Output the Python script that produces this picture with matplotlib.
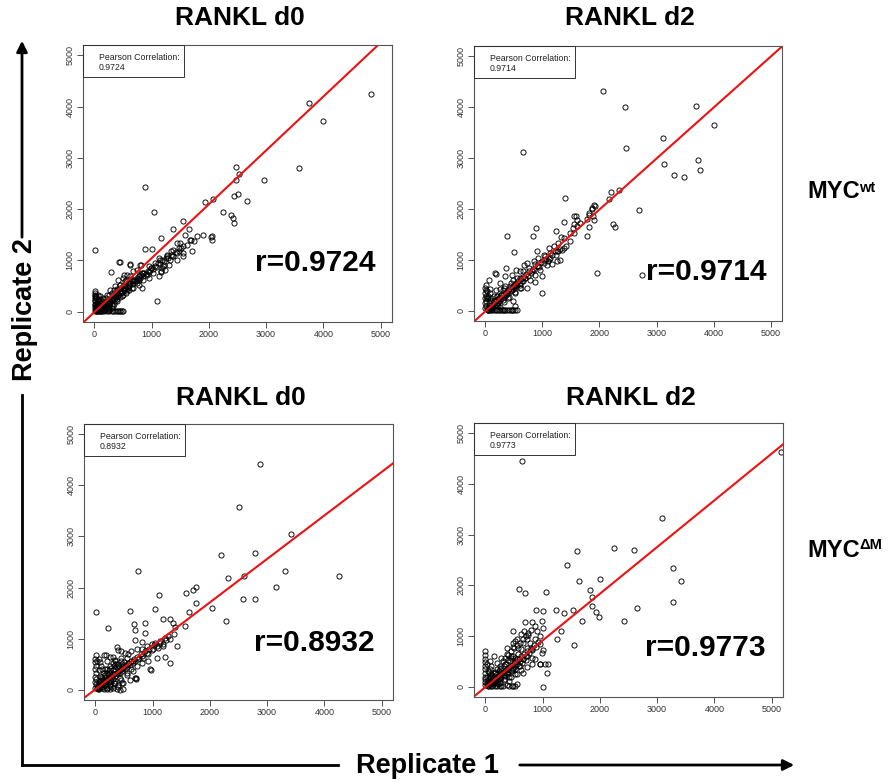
import numpy as np
import matplotlib
matplotlib.use("Agg")
import matplotlib.pyplot as plt
from matplotlib.lines import Line2D
from matplotlib.patches import FancyArrowPatch, Rectangle

W, H = 895, 782

conditions = ["RANKL d0", "RANKL d2"]
genotypes = ["wt", "\u0394M"]
pearson = [[0.9724, 0.9714], [0.8932, 0.9773]]
# regression lines: (intercept, slope)
fits = [[(-5, 1.05), (-10, 1.0)], [(10, 0.85), (-5, 0.92)]]
ticks = [0, 1000, 2000, 3000, 4000, 5000]

wt_d0 = [
    (4825, 4250), (3750, 4070), (4000, 3720), (3570, 2805), (2475, 2825), (2530, 2690),
    (2470, 2570), (2965, 2570), (2515, 2300), (2435, 2265), (2670, 2155), (2070, 2200),
    (1940, 2135), (2255, 1940), (2385, 1895), (2420, 1830), (2440, 1730), (885, 2435),
    (1045, 1940), (10, 1200), (1100, 205), (1550, 1760), (1370, 1620), (1650, 1620),
    (1905, 1505), (1790, 1485), (2035, 1460), (2055, 1400), (1170, 1445), (885, 1225),
    (1005, 1215), (290, 775), (435, 965), (440, 960),
    (1590, 1505), (1680, 1405), (1735, 1375), (1445, 1340), (1505, 1245), (1330, 1180),
    (1270, 1115), (1125, 1050), (1210, 920), (980, 855), (805, 920), (1155, 790),
    (920, 725), (775, 625), (630, 920), (515, 725), (690, 590), (455, 460), (340, 330),
    (365, 200), (455, 20),
    (625, 930), (800, 920), (680, 790), (825, 755), (975, 820), (1160, 775), (1205, 885),
    (1325, 1015), (1440, 1145), (1555, 1275), (1670, 1405), (2050, 1470), (1500, 1340),
    (1555, 1145), (1380, 1210), (1265, 1080), (1150, 1015), (1060, 950), (945, 885),
    (855, 755), (770, 690), (680, 625), (595, 560), (505, 495), (450, 395), (360, 330),
    (305, 235), (215, 170), (155, 105), (100, 50), (740, 820), (625, 690), (535, 590),
    (450, 525), (390, 430), (855, 625), (770, 525), (680, 460), (565, 395), (480, 300),
    (390, 200), (330, 105), (245, 70), (825, 460), (1030, 755), (1120, 690), (1235, 820),
    (1350, 1080), (1470, 1245), (1615, 1310), (1700, 1180), (1555, 1080), (1440, 1015),
    (1295, 920), (1175, 855), (945, 660), (565, 725), (505, 660), (420, 625), (360, 495),
    (275, 430), (215, 330), (155, 265), (130, 170),
    (40, 15), (130, 15), (215, 15), (300, 15), (360, 15), (420, 15), (480, 15), (505, 15),
    (10, 365), (10, 300), (10, 230), (10, 160), (10, 100), (10, 50),
    (40, 90), (70, 150), (100, 120), (60, 200), (30, 260), (80, 60), (120, 80), (160, 40),
    (200, 60), (250, 120), (180, 140), (140, 200), (260, 40), (300, 80), (50, 30),
    (20, 20), (110, 10),
    # dense core
    (20, 40), (40, 20), (50, 60), (70, 40), (80, 90), (90, 60), (110, 70), (120, 110),
    (130, 90), (150, 120), (160, 150), (170, 110), (190, 150), (200, 180), (210, 140),
    (230, 200), (240, 170), (260, 210), (270, 240), (280, 190), (300, 250), (310, 220),
    (330, 280), (340, 250), (350, 300), (370, 280), (380, 330), (400, 310), (410, 360),
    (420, 330), (440, 380), (460, 360), (470, 410), (490, 390), (500, 440), (520, 420),
    (530, 470), (550, 440), (560, 500), (580, 470), (600, 530), (610, 500), (630, 560),
    (650, 540), (660, 600), (680, 570), (700, 620), (720, 600), (740, 660), (760, 630),
    (780, 690), (800, 660), (820, 720), (850, 700), (870, 760), (900, 740), (930, 800),
    (960, 780), (990, 850), (1020, 830), (1050, 900), (1080, 880), (1110, 950),
    (1140, 930), (1180, 1000), (1220, 980), (1250, 1050), (1290, 1040), (1330, 1100),
    (1380, 1090), (1420, 1160), (1480, 1180),
    (100, 20), (200, 90), (300, 160), (400, 240), (500, 330), (600, 420), (250, 60),
    (350, 150), (450, 280), (550, 360), (650, 470), (750, 560), (100, 180), (200, 260),
    (300, 360), (400, 450), (150, 250), (250, 330), (350, 420), (450, 520), (550, 620),
    (60, 120), (30, 160), (60, 15), (90, 15), (170, 15), (250, 15), (330, 15), (390, 15),
    (450, 15), (5, 20), (5, 130), (5, 200), (5, 270), (5, 330), (5, 400),
    (20, 100), (50, 150), (80, 200), (30, 300), (60, 250), (100, 300), (120, 200),
    (140, 50), (180, 30), (220, 100), (260, 150), (60, 330),
]

wt_d2 = [
    (2065, 4325), (2440, 4005), (3690, 4025), (4010, 3655), (3110, 3390), (2470, 3200),
    (660, 3115), (3130, 2890), (3735, 2955), (3765, 2760), (3310, 2665), (3485, 2630),
    (2340, 2370), (2205, 2335), (2170, 2195), (2690, 1975), (1930, 2065), (1390, 2215),
    (2235, 1710), (2270, 1645), (1960, 740), (2750, 695), (380, 1460), (495, 1155),
    (180, 730), (995, 345), (890, 1625), (840, 1460), (1230, 1560), (1325, 1450),
    (1590, 1855), (1610, 1790), (1530, 1625), (1780, 1460), (1815, 1645), (1885, 1855),
    (1910, 1790), (1870, 2020), (1820, 1885), (1550, 1525), (1490, 1365), (1405, 1265),
    (1255, 1165), (1140, 1035), (1080, 905), (1255, 970), (1375, 1230), (1110, 1230),
    (1025, 1100), (905, 1165), (850, 970), (760, 840), (675, 905), (615, 775), (555, 640),
    (470, 710), (440, 545), (320, 445), (265, 315), (145, 185), (495, 480), (730, 445),
    (875, 575), (995, 675), (615, 510),
    (165, 745), (360, 840), (1370, 1735), (1555, 1870), (725, 940), (665, 775), (780, 610),
    (605, 645), (490, 610), (430, 480), (255, 545), (340, 680), (545, 810), (810, 775),
    (930, 875), (1020, 1005), (1135, 1140), (1195, 1270), (1280, 1335), (1370, 1435),
    (1490, 1535), (1605, 1665), (1665, 1730), (1780, 1795), (1810, 1930), (1870, 1995),
    (1910, 2070), (1545, 1695), (1310, 1205), (1105, 975), (960, 810), (870, 710),
    (665, 580), (605, 445), (520, 350), (400, 250), (310, 215), (225, 150), (135, 100),
    (75, 55), (45, 20), (370, 350), (280, 315), (195, 285), (460, 415), (545, 515),
    (695, 645), (870, 910), (1045, 1070), (1225, 1170), (1165, 910), (1310, 1005),
    (930, 1040),
    (45, 10), (100, 10), (150, 10), (200, 10), (260, 10), (320, 10), (380, 10), (450, 10),
    (520, 10), (15, 500), (15, 400), (15, 300), (15, 200), (15, 100),
    (310, 20), (460, 20), (520, 85), (490, 185), (60, 150), (100, 250), (150, 200),
    (200, 120), (250, 80), (120, 60), (80, 350), (40, 300), (180, 400), (220, 230),
    # dense core
    (20, 40), (40, 20), (60, 80), (80, 50), (100, 110), (120, 80), (140, 150), (160, 120),
    (180, 190), (200, 150), (220, 230), (240, 190), (260, 270), (280, 230), (300, 310),
    (320, 270), (340, 350), (360, 310), (380, 390), (400, 350), (420, 430), (440, 390),
    (460, 470), (480, 430), (500, 510), (520, 470), (540, 550), (560, 510), (580, 590),
    (600, 550), (620, 630), (640, 590), (660, 670), (690, 640), (710, 720), (740, 690),
    (760, 780), (800, 740), (830, 830), (860, 800), (900, 880), (940, 860), (980, 950),
    (1020, 930), (1070, 1020), (1120, 1010), (1170, 1100), (1230, 1090), (1280, 1180),
    (1350, 1200),
    (100, 200), (200, 300), (300, 400), (150, 300), (250, 420), (350, 480), (120, 30),
    (220, 90), (320, 180), (420, 270), (520, 360), (620, 450), (50, 250), (80, 420),
    (30, 380), (60, 600), (20, 250),
    (0, 50), (0, 150), (0, 250), (0, 350), (0, 450), (70, 10), (120, 10), (180, 10),
    (230, 10), (290, 10), (350, 10), (410, 10), (480, 10), (550, 10),
]

dm_d0 = [
    (2880, 4415), (2510, 3575), (3425, 3040), (2200, 2640), (2790, 2670), (735, 2325),
    (2325, 2190), (2595, 2235), (3320, 2315), (4260, 2235), (3150, 2005), (1765, 2015),
    (1700, 1950), (1585, 1885), (1105, 1845), (2570, 1780), (2790, 1770), (10, 1520),
    (600, 1550), (1040, 1575), (1760, 1690), (2045, 1595), (1635, 1520), (2275, 1355),
    (215, 1210), (680, 1290), (870, 1315), (700, 1160), (865, 1120), (1175, 1380),
    (1295, 1380), (1350, 1305), (1570, 1240), (1385, 1225), (1425, 865), (975, 390),
    (705, 240), (470, 130), (425, 5),
    (690, 975), (805, 940), (370, 845), (400, 780), (455, 760), (150, 680), (180, 680),
    (5, 680), (300, 645), (340, 580), (455, 625), (515, 725), (575, 695), (630, 760),
    (720, 790), (805, 790), (895, 855), (990, 890), (1040, 920), (1130, 955), (1215, 1020),
    (1275, 1050), (1365, 1085), (1185, 855), (1100, 825), (1010, 790), (920, 695),
    (835, 625), (750, 595), (660, 560), (575, 495), (485, 430), (400, 365), (310, 300),
    (220, 235), (135, 135), (45, 70), (690, 235), (710, 205), (485, 135), (425, 235),
    (340, 170), (250, 105), (545, 335), (630, 400), (720, 465), (805, 530), (925, 560),
    (1070, 625), (1215, 645), (1305, 530), (955, 400), (5, 465), (5, 335), (5, 205),
    (5, 105), (135, 40), (250, 20), (370, 20), (485, 20), (65, 595), (105, 465),
    (165, 400), (195, 335), (75, 270),
    (60, 150), (100, 60), (160, 100), (200, 30), (280, 60), (320, 140), (30, 30),
    (100, 200), (250, 200), (400, 90), (180, 250),
    # dense core
    (20, 30), (40, 10), (50, 60), (70, 40), (90, 90), (110, 60), (130, 120), (150, 90),
    (170, 150), (190, 120), (210, 190), (230, 150), (250, 220), (270, 180), (290, 260),
    (310, 220), (330, 300), (350, 260), (370, 330), (390, 300), (410, 370), (430, 330),
    (450, 410), (470, 370), (490, 440), (510, 400), (530, 480), (550, 440), (570, 520),
    (600, 490), (620, 560), (650, 530), (670, 600), (700, 570), (730, 650), (760, 620),
    (790, 700), (820, 670), (860, 750), (900, 720), (940, 800), (980, 780), (1030, 870),
    (1080, 850), (1130, 920), (1180, 900), (1240, 980), (1300, 1000),
    (100, 250), (150, 330), (200, 400), (250, 470), (300, 520), (350, 560), (200, 560),
    (120, 400), (60, 380), (260, 640), (400, 500), (450, 570), (80, 550), (30, 560),
    (550, 620), (150, 20), (250, 80), (350, 140), (450, 200), (550, 280), (650, 360),
    (200, 20), (300, 40), (400, 60), (600, 200),
    (0, 30), (0, 150), (0, 250), (0, 400), (0, 550), (0, 600),
    (40, 120), (80, 170), (120, 230), (160, 280), (200, 330), (240, 380), (280, 420),
    (320, 460), (360, 500), (60, 20), (100, 130), (140, 190), (180, 200), (220, 280),
    (260, 330), (300, 380), (340, 400), (380, 440), (420, 470), (460, 500), (500, 540),
]

dm_d2 = [
    (635, 4445), (5160, 4620), (3080, 3325), (2250, 2735), (2595, 2700), (1595, 2680),
    (1430, 2400), (3275, 2345), (3420, 2095), (2000, 2120), (1640, 2085), (580, 1925),
    (690, 1840), (1060, 1860), (1825, 1900), (1855, 1765), (1865, 1590), (1925, 1485),
    (1985, 1385), (3275, 1665), (2645, 1550), (2430, 1295), (1685, 1295), (1550, 825),
    (1000, 0), (1235, 1510), (1365, 1465), (1525, 1505), (1255, 950), (1325, 1095),
    (1100, 455), (960, 445), (880, 1510), (1005, 1495),
    (0, 700), (0, 540), (475, 1110), (525, 895), (485, 780), (380, 765), (690, 1280),
    (805, 1275), (675, 1110), (750, 1015), (865, 1195), (895, 1100), (980, 1295),
    (1010, 1165), (955, 1000), (865, 935), (780, 870), (720, 770), (630, 740), (660, 870),
    (575, 640), (515, 575), (425, 510), (340, 445), (250, 345), (165, 280), (75, 185),
    (20, 85), (370, 640), (280, 575), (195, 475), (105, 410), (45, 315), (455, 610),
    (545, 540), (660, 540), (720, 610), (805, 575), (865, 540), (955, 445), (1040, 445),
    (1070, 280), (980, 675), (1000, 725), (805, 740), (600, 410), (485, 345), (370, 280),
    (660, 280), (545, 250), (455, 185), (340, 150), (250, 85), (135, 50), (370, 35),
    (485, 20), (545, 50), (310, 20), (195, 20), (0, 410), (0, 280), (0, 150), (0, 35),
    (720, 935), (630, 1035), (545, 935), (485, 870), (575, 770),
    (60, 100), (100, 250), (150, 150), (200, 60), (30, 200), (80, 350), (240, 220),
    (300, 300), (420, 120), (60, 20),
    # dense core
    (20, 40), (40, 20), (60, 80), (80, 50), (100, 110), (120, 80), (140, 150), (160, 110),
    (180, 180), (200, 140), (220, 210), (240, 170), (260, 250), (280, 200), (300, 280),
    (320, 240), (340, 320), (360, 270), (380, 360), (400, 300), (420, 390), (440, 340),
    (460, 430), (480, 380), (500, 470), (520, 420), (540, 510), (560, 460), (580, 550),
    (600, 500), (620, 600), (650, 550), (670, 650), (700, 600), (730, 700), (760, 660),
    (790, 760), (820, 720), (850, 820), (880, 780), (920, 880), (960, 850),
    (100, 200), (150, 280), (200, 350), (250, 420), (300, 500), (350, 560), (400, 620),
    (450, 700), (500, 760), (550, 820), (600, 860), (650, 950), (700, 1000), (750, 1060),
    (800, 1120), (120, 20), (220, 70), (320, 130), (420, 200), (520, 260), (620, 330),
    (720, 400), (820, 450), (60, 300), (30, 450), (80, 500), (150, 600),
    (0, 100), (0, 200), (0, 350), (0, 480), (0, 620), (100, 20), (160, 20), (250, 20),
    (280, 20), (420, 20), (460, 20), (520, 20),
    (40, 130), (80, 180), (120, 240), (160, 300), (200, 250), (240, 320), (280, 380),
    (320, 420), (360, 460), (400, 520), (440, 560), (480, 600), (180, 100), (260, 150),
    (340, 220), (400, 260), (460, 320), (520, 360), (580, 420), (640, 470), (700, 520),
]

panels = [[wt_d0, wt_d2], [dm_d0, dm_d2]]

BOLD = ["Liberation Sans", "DejaVu Sans"]
plt.rcParams["font.family"] = ["Liberation Sans", "DejaVu Sans"]


def px_rect(left, top, right, bottom):
    return [left / W, 1 - bottom / H, (right - left) / W, (bottom - top) / H]


def fx(px):
    return px / W


def fy(py):
    return 1 - py / H


fig = plt.figure(figsize=(W / 100, H / 100), dpi=100)
fig.patch.set_facecolor("white")

boxes = [[(83, 45, 392, 322), (474, 46, 782, 321)],
         [(84, 424, 393, 700), (474, 423, 783, 697)]]
r_pos = [[(0.945, 0.213), (0.951, 0.18)], [(0.942, 0.207), (0.945, 0.18)]]

for i in range(2):
    for j in range(2):
        left, top, right, bottom = boxes[i][j]
        ax = fig.add_axes(px_rect(left, top, right, bottom))
        pts = np.array(panels[i][j], dtype=float)
        ax.plot(pts[:, 0], pts[:, 1], "o", ms=3.7, mfc="none", mec="black", mew=0.65)
        b0, b1 = fits[i][j]
        ax.axline((0, b0), slope=b1, color="#ee1111", lw=1.5)
        ax.set_xlim(-200, 5200)
        ax.set_ylim(-200, 5200)
        ax.set_xticks(ticks)
        ax.set_yticks(ticks)
        ax.set_xticklabels([str(t) for t in ticks])
        ax.set_yticklabels([str(t) for t in ticks], rotation=90, va="center")
        ax.tick_params(labelsize=6.5, length=4, width=0.6, colors="#333333", pad=2)
        for s in ax.spines.values():
            s.set_color("#555555")
            s.set_linewidth(0.8)

        # legend box
        bw, bh = 101 / (right - left), 32 / (bottom - top)
        ax.add_patch(Rectangle((0, 1 - bh), bw, bh, transform=ax.transAxes,
                               fill=False, ec="#333333", lw=0.7, zorder=5))
        ax.text(0.052, 1 - 8 / (bottom - top), "Pearson Correlation:\n%.4f" % pearson[i][j],
                transform=ax.transAxes, fontsize=6.3, color="#222222",
                ha="left", va="top", linespacing=1.15, zorder=6)

        rx, ry = r_pos[i][j]
        ax.text(rx, ry, "r=%.4f" % pearson[i][j], transform=ax.transAxes,
                fontsize=21.5, fontweight="bold", family=BOLD, ha="right", va="center")

        cx = (left + right) / 2
        ty = 18 if i == 0 else 398
        fig.text(fx(cx + 2), fy(ty), conditions[j], fontsize=19, fontweight="bold",
                 family=BOLD, ha="center", va="center")

# row labels
for base, sup_base, sup in [(198, 192, genotypes[0]), (557, 549, genotypes[1])]:
    fig.text(fx(807), fy(base), "MYC", fontsize=17, fontweight="bold", family=BOLD,
             ha="left", va="baseline")
    fig.text(fx(859), fy(sup_base), sup, fontsize=10.5, fontweight="bold",
             family=BOLD, ha="left", va="baseline")

# axis arrows
lwa = 2.0
ax_x, ax_y = 22, 765
fig.add_artist(Line2D([fx(ax_x), fx(ax_x)], [fy(ax_y), fy(395)], color="black", lw=lwa,
                      transform=fig.transFigure))
fig.add_artist(Line2D([fx(ax_x), fx(338)], [fy(ax_y), fy(ax_y)], color="black", lw=lwa,
                      transform=fig.transFigure, solid_capstyle="projecting"))
fig.add_artist(FancyArrowPatch((fx(ax_x), fy(240)), (fx(ax_x), fy(38)),
                               transform=fig.transFigure, arrowstyle="-|>",
                               mutation_scale=16, lw=lwa, color="black"))
fig.add_artist(FancyArrowPatch((fx(517), fy(ax_y)), (fx(797), fy(ax_y)),
                               transform=fig.transFigure, arrowstyle="-|>",
                               mutation_scale=16, lw=lwa, color="black"))
fig.text(fx(25), fy(310), "Replicate 2", rotation=90, fontsize=19.5, fontweight="bold",
         family=BOLD, ha="center", va="center")
fig.text(fx(427), fy(766), "Replicate 1", fontsize=19.5, fontweight="bold",
         family=BOLD, ha="center", va="center")

fig.savefig("out.png", dpi=100)
